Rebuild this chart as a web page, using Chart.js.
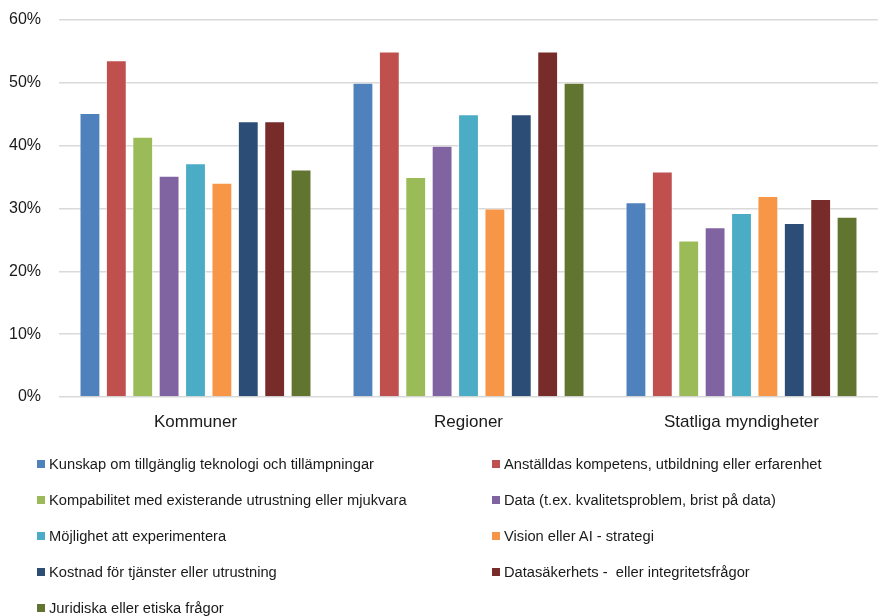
<!DOCTYPE html>
<html lang="sv">
<head>
<meta charset="utf-8">
<script src="https://cdn.jsdelivr.net/npm/chart.js@4.4.1/dist/chart.umd.min.js"></script>
<style>
  html, body { margin: 0; padding: 0; background: #fff; }
  #wrap { position: relative; width: 880px; height: 616px; overflow: hidden; }
  #chartBox { position: absolute; left: 0; top: 0; width: 880px; height: 440px; }
  #legend { position: absolute; left: 0; top: 0; width: 880px; height: 616px; pointer-events: none; }
  .item { position: absolute; height: 20px; display: flex; align-items: center; white-space: nowrap; }
  .swatch { width: 8px; height: 8px; margin-right: 4px; flex: none; }
  .label { font-family: "Liberation Sans", Arial, sans-serif; font-size: 14.7px; color: #1a1a1a; white-space: pre; }
</style>
</head>
<body>
<div id="wrap">
  <div id="chartBox"><canvas id="c"></canvas></div>
  <div id="legend"></div>
</div>
<script>
const categories = ["Kommuner", "Regioner", "Statliga myndigheter"];

const seriesNames = [
  "Kunskap om tillgänglig teknologi och tillämpningar",
  "Anställdas kompetens, utbildning eller erfarenhet",
  "Kompabilitet med existerande utrustning eller mjukvara",
  "Data (t.ex. kvalitetsproblem, brist på data)",
  "Möjlighet att experimentera",
  "Vision eller AI - strategi",
  "Kostnad för tjänster eller utrustning",
  "Datasäkerhets -  eller integritetsfrågor",
  "Juridiska eller etiska frågor"
];

// Share (%) per category: Kommuner, Regioner, Statliga myndigheter
const kunskap       = [45.2, 50, 31.0];
const kompetens     = [53.6, 55, 35.9];
const kompabilitet  = [41.4, 35, 24.9];
const data          = [35.2, 40, 27.0];
const experimentera = [37.2, 45, 29.3];
const vision        = [34.1, 30, 32.0];
const kostnad       = [43.9, 45, 27.7];
const sakerhet      = [43.9, 55, 31.5];
const juridiska     = [36.2, 50, 28.7];

const seriesValues = [kunskap, kompetens, kompabilitet, data, experimentera, vision, kostnad, sakerhet, juridiska];

const colors = ["#4F81BD", "#C0504D", "#9BBB59", "#8064A2", "#4BACC6", "#F79646", "#2C4D75", "#772C2A", "#617530"];

const yTicks = [0, 10, 20, 30, 40, 50, 60];

const datasets = seriesNames.map((name, i) => ({
  label: name,
  data: seriesValues[i],
  backgroundColor: colors[i],
  borderColor: "rgba(255,255,255,0.55)",
  borderWidth: 1,
  borderSkipped: "bottom",
  categoryPercentage: 0.87,
  barPercentage: 0.79
}));

const fontFamily = "'Liberation Sans', Arial, sans-serif";

new Chart(document.getElementById("c"), {
  type: "bar",
  data: { labels: categories, datasets },
  options: {
    responsive: true,
    maintainAspectRatio: false,
    animation: false,
    layout: { padding: { top: 20, right: 2, left: 0, bottom: 0 } },
    plugins: { legend: { display: false }, tooltip: { enabled: false } },
    scales: {
      x: {
        grid: { display: false, drawTicks: false },
        border: { display: false },
        ticks: { color: "#1a1a1a", font: { family: fontFamily, size: 17 }, padding: 15 },
        afterFit: s => { s.height = 43; }
      },
      y: {
        min: 0,
        max: 60,
        afterBuildTicks: s => { s.ticks = yTicks.map(v => ({ value: v })); },
        // invisible tick marks keep the labels clear of the plot without extra top padding
        grid: { color: "#D9D9D9", lineWidth: 1.5, drawTicks: true, tickLength: 18, tickColor: "rgba(0,0,0,0)" },
        border: { display: false },
        ticks: { color: "#1a1a1a", font: { family: fontFamily, size: 16 }, padding: 0, callback: v => v + "%" },
        afterFit: s => { s.width = 59; }
      }
    }
  }
});

// Two-column legend below the plot
const legend = document.getElementById("legend");
const colX = [37, 492];
const rowTop = 453.5;
const rowStep = 36.2;
seriesNames.forEach((name, i) => {
  const item = document.createElement("div");
  item.className = "item";
  item.style.left = colX[i % 2] + "px";
  item.style.top = (rowTop + Math.floor(i / 2) * rowStep) + "px";
  const sw = document.createElement("span");
  sw.className = "swatch";
  sw.style.background = colors[i];
  const lb = document.createElement("span");
  lb.className = "label";
  lb.textContent = name;
  item.appendChild(sw);
  item.appendChild(lb);
  legend.appendChild(item);
});
</script>
</body>
</html>
